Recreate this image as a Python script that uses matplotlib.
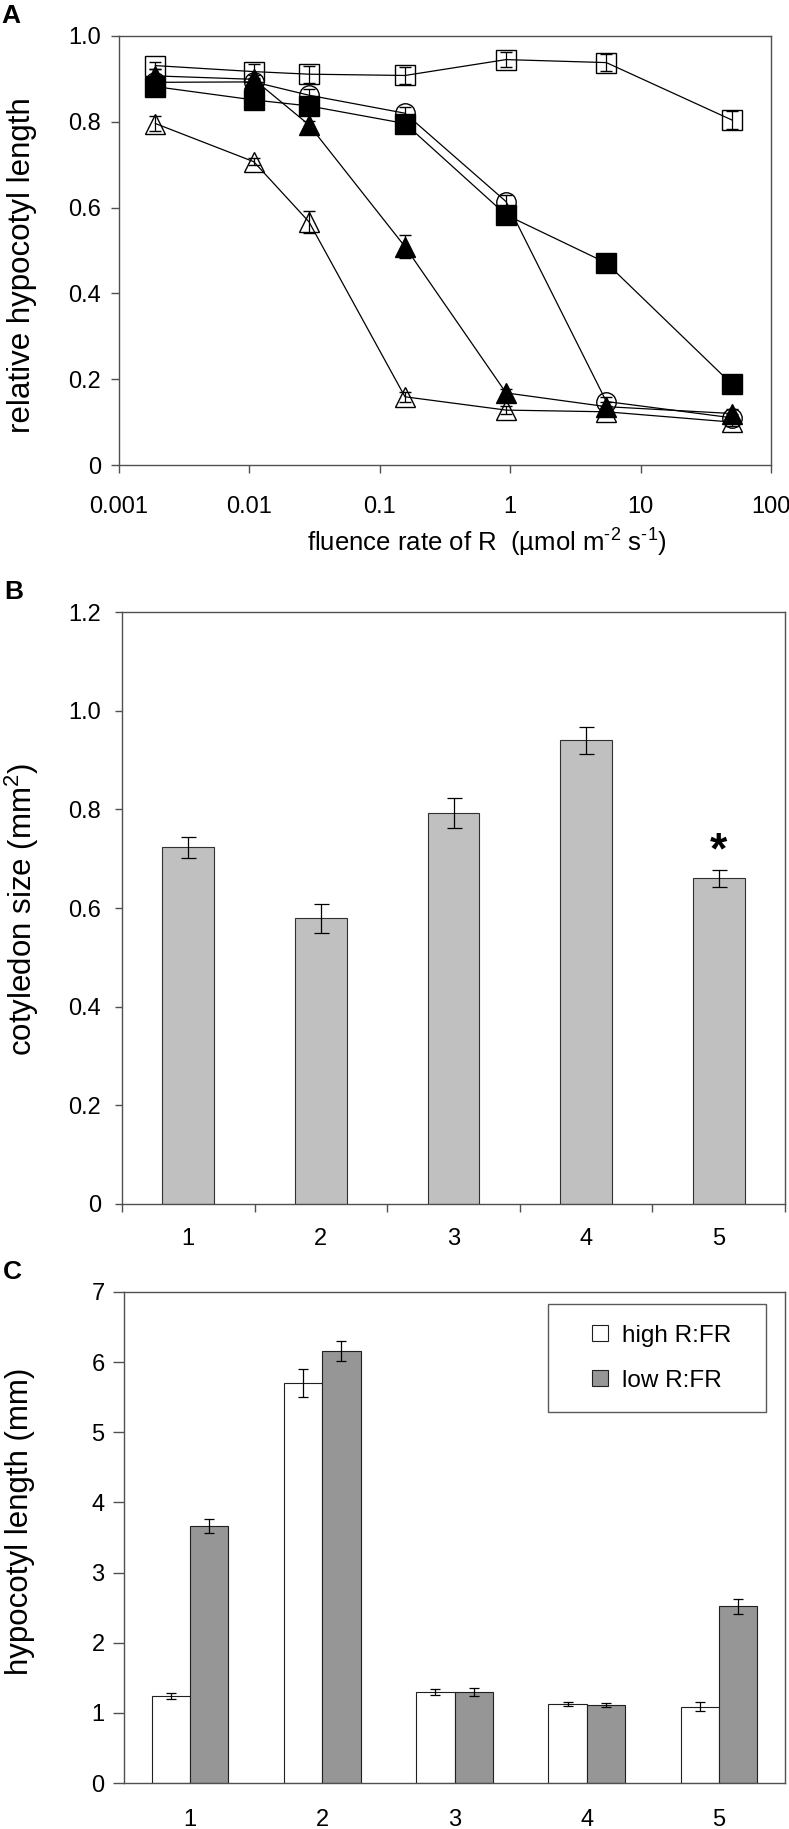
import matplotlib
matplotlib.use("Agg")
import matplotlib.pyplot as plt
from matplotlib.lines import Line2D
from matplotlib.ticker import FixedLocator, NullLocator

plt.rcParams['font.family'] = ['Liberation Sans', 'DejaVu Sans']
plt.rcParams['mathtext.fontset'] = 'custom'
plt.rcParams['mathtext.rm'] = 'Liberation Sans'
plt.rcParams['mathtext.default'] = 'regular'

# panel A - relative hypocotyl length vs fluence rate
fluence = [0.0019, 0.0108, 0.0286, 0.156, 0.93, 5.46, 50.3]
open_sq = [0.931, 0.917, 0.911, 0.908, 0.945, 0.938, 0.804]
open_sq_err = [0.008, 0.017, 0.02, 0.02, 0.018, 0.02, 0.021]
open_circ = [0.892, 0.893, 0.862, 0.820, 0.614, 0.148, 0.110]
open_circ_err = [0.01, 0.01, 0.015, 0.015, 0.015, 0.01, 0.01]
fill_sq = [0.882, 0.851, 0.837, 0.796, 0.583, 0.471, 0.188]
fill_sq_err = [0.005, 0.005, 0.005, 0.005, 0.005, 0.005, 0.005]
fill_tri = [0.907, 0.899, 0.793, 0.509, 0.168, 0.136, 0.120]
fill_tri_err = [0.017, 0.01, 0.01, 0.027, 0.01, 0.01, 0.01]
open_tri = [0.796, 0.707, 0.567, 0.159, 0.128, 0.124, 0.100]
open_tri_err = [0.017, 0.008, 0.026, 0.012, 0.01, 0.01, 0.01]

# panel B - cotyledon size
lines_b = ["1", "2", "3", "4", "5"]
cotyledon = [0.723, 0.579, 0.793, 0.940, 0.660]
cotyledon_err = [0.021, 0.03, 0.03, 0.027, 0.018]

# panel C - hypocotyl length, high vs low R:FR
lines_c = ["1", "2", "3", "4", "5"]
high_rfr = [1.24, 5.70, 1.295, 1.13, 1.09]
high_rfr_err = [0.04, 0.2, 0.04, 0.03, 0.06]
low_rfr = [3.67, 6.16, 1.295, 1.11, 2.52]
low_rfr_err = [0.1, 0.14, 0.055, 0.025, 0.11]

W, H = 789, 1829
fig = plt.figure(figsize=(W / 100, H / 100), dpi=100)

spine_col = "#505050"
tick_fs = 17
label_fs = 22.5


def px_axes(left, right, top, bottom):
    return fig.add_axes([left / W, 1 - bottom / H, (right - left) / W, (bottom - top) / H])


def style_spines(ax):
    for s in ax.spines.values():
        s.set_color(spine_col)
        s.set_linewidth(1.0)


# ---------- A ----------
axA = px_axes(119, 771, 36, 465)
series = [
    (open_circ, open_circ_err, "o", "none"),
    (open_tri, open_tri_err, "^", "none"),
    (fill_tri, fill_tri_err, "^", "black"),
    (fill_sq, fill_sq_err, "s", "black"),
    (open_sq, open_sq_err, "s", "none"),
]
for vals, errs, mk, face in series:
    axA.errorbar(fluence, vals, yerr=errs, marker=mk, ms=14, mfc=face, mec="black",
                 mew=1.0, color="black", lw=0.9, elinewidth=0.9, capsize=4, capthick=0.9)
axA.set_xscale("log")
axA.set_xlim(0.001, 100)
axA.set_ylim(0, 1.0)
axA.xaxis.set_major_locator(FixedLocator([0.001, 0.01, 0.1, 1, 10, 100]))
axA.xaxis.set_minor_locator(NullLocator())
axA.set_xticklabels(["0.001", "0.01", "0.1", "1", "10", "100"])
axA.set_yticks([0, 0.2, 0.4, 0.6, 0.8, 1.0])
axA.set_yticklabels(["0", "0.2", "0.4", "0.6", "0.8", "1.0"])
axA.tick_params(axis="x", direction="out", length=6, width=1, color=spine_col,
                labelsize=tick_fs, pad=16)
axA.tick_params(axis="y", direction="out", length=6, width=1, color=spine_col,
                labelsize=tick_fs, pad=7)
style_spines(axA)
fig.text(487 / W, 1 - 543 / H, r"fluence rate of R  (µmol m$^{\text{-2}}$ s$^{\text{-1}}$)",
         fontsize=18.5, ha="center", va="center")
fig.text(22 / W, 1 - 265 / H, "relative hypocotyl length", rotation=90,
         fontsize=label_fs, ha="center", va="center")
fig.text(11 / W, 1 - 16 / H, "A", fontsize=19, fontweight="bold", ha="center", va="center")

# ---------- B ----------
axB = px_axes(122, 785, 612, 1204)
xb = list(range(len(lines_b)))
axB.bar(xb, cotyledon, width=0.39, color="#c0c0c0", edgecolor="#303030", linewidth=0.8,
        yerr=cotyledon_err, capsize=5.4,
        error_kw=dict(elinewidth=0.9, capthick=0.9, ecolor="black"))
axB.text(xb[4], cotyledon[4] + 0.03, "*", fontsize=32, fontweight="bold",
         ha="center", va="baseline")
axB.set_xlim(-0.5, 4.5)
axB.set_ylim(0, 1.2)
axB.set_xticks(xb)
axB.set_xticklabels(lines_b)
axB.set_xticks([i - 0.5 for i in range(len(lines_b) + 1)], minor=True)
axB.set_yticks([0, 0.2, 0.4, 0.6, 0.8, 1.0, 1.2])
axB.set_yticklabels(["0", "0.2", "0.4", "0.6", "0.8", "1.0", "1.2"])
axB.tick_params(axis="x", which="major", length=0, labelsize=tick_fs, pad=17)
axB.tick_params(axis="x", which="minor", direction="out", length=6, width=1, color=spine_col)
axB.tick_params(axis="y", direction="out", length=5, width=1, color=spine_col,
                labelsize=tick_fs, pad=10)
style_spines(axB)
fig.text(22 / W, 1 - 910 / H, "cotyledon size (mm$^{2}$)", rotation=90,
         fontsize=label_fs, ha="center", va="center")
fig.text(14 / W, 1 - 592 / H, "B", fontsize=19, fontweight="bold", ha="center", va="center")

# ---------- C ----------
axC = px_axes(124, 785, 1292, 1783)
xc = list(range(len(lines_c)))
w = 0.29
axC.bar([i - w / 2 for i in xc], high_rfr, width=w, color="white", edgecolor="#202020",
        linewidth=0.8, yerr=high_rfr_err, capsize=3.6,
        error_kw=dict(elinewidth=0.9, capthick=0.9, ecolor="black"))
axC.bar([i + w / 2 for i in xc], low_rfr, width=w, color="#969696", edgecolor="#202020",
        linewidth=0.8, yerr=low_rfr_err, capsize=3.6,
        error_kw=dict(elinewidth=0.9, capthick=0.9, ecolor="black"))
axC.set_xlim(-0.5, 4.5)
axC.set_ylim(0, 7)
axC.set_xticks(xc)
axC.set_xticklabels(lines_c)
axC.set_yticks(range(8))
axC.tick_params(axis="x", length=0, labelsize=tick_fs, pad=19)
axC.tick_params(axis="y", direction="out", length=8, width=1, color=spine_col,
                labelsize=tick_fs, pad=6)
style_spines(axC)

handles = [
    Line2D([], [], marker="s", ls="none", ms=11.5, mfc="white", mec="#202020", mew=0.8),
    Line2D([], [], marker="s", ls="none", ms=11.5, mfc="#969696", mec="#202020", mew=0.8),
]
leg = axC.legend(handles, ["high R:FR  ", "low R:FR  "], loc="upper left",
                 bbox_to_anchor=(548 / W, 1 - 1304 / H), bbox_transform=fig.transFigure,
                 borderaxespad=0, fontsize=17.5, frameon=True, fancybox=False,
                 borderpad=0.85, handlelength=2.6, handletextpad=-0.4, labelspacing=0.95)
leg.get_frame().set_edgecolor("#303030")
leg.get_frame().set_linewidth(1.0)
fig.text(20 / W, 1 - 1521 / H, "hypocotyl length (mm)", rotation=90,
         fontsize=label_fs, ha="center", va="center")
fig.text(12 / W, 1 - 1272 / H, "C", fontsize=19, fontweight="bold", ha="center", va="center")

fig.savefig("out.png", dpi=100)
